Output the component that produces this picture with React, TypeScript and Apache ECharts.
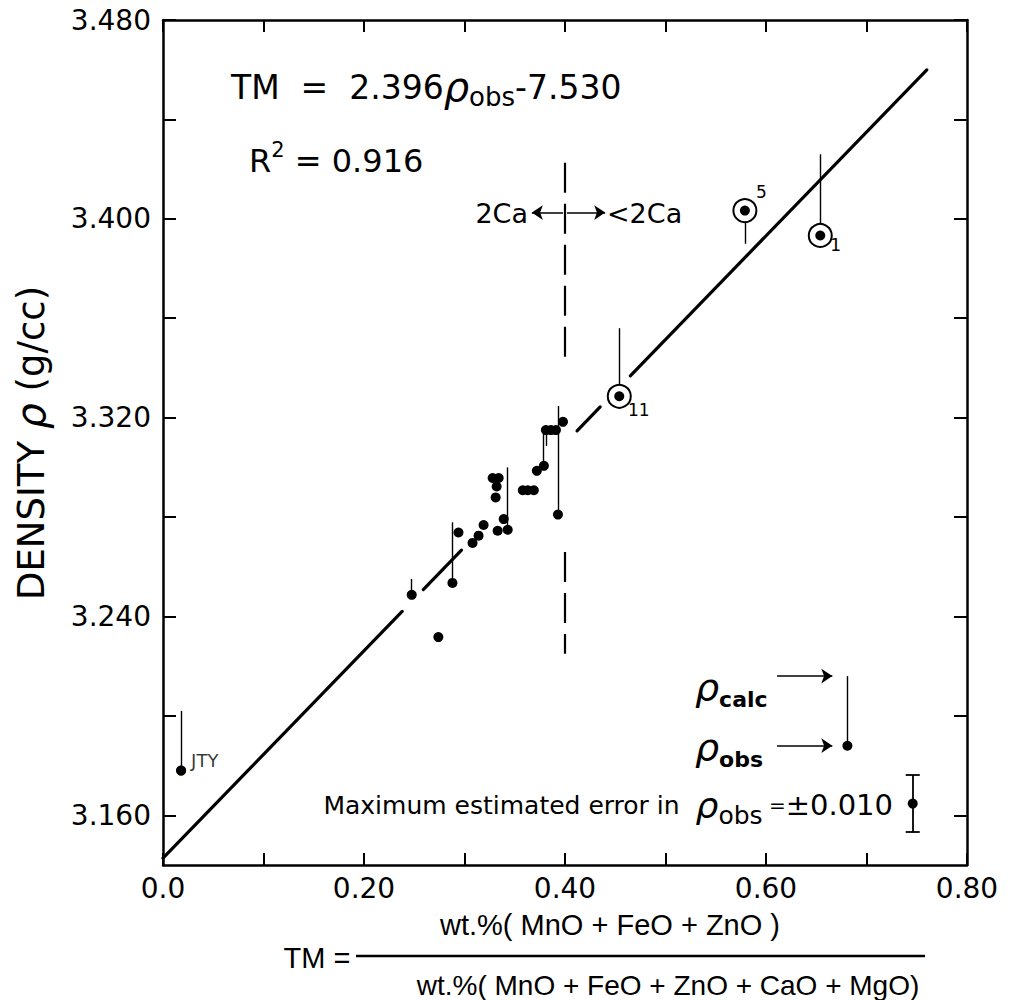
import React, { useEffect, useRef } from "react";
import * as echarts from "echarts";

const FONT = "DejaVu Sans";
const FONT_TITLE = "Liberation Sans";

// Axis ticks / labels
const xTickValues = [0, 0.1, 0.2, 0.3, 0.4, 0.5, 0.6, 0.7, 0.8];
const xLabelValues = [0, 0.2, 0.4, 0.6, 0.8];
const yTickValues = [3.16, 3.2, 3.24, 3.28, 3.32, 3.36, 3.4, 3.44, 3.48];
const yLabelValues = [3.16, 3.24, 3.32, 3.4, 3.48];

// Observed points: TM and rho_obs
const pointTM = [0.018, 0.2475, 0.274, 0.288, 0.294, 0.308, 0.314, 0.319, 0.333, 0.339, 0.343, 0.331, 0.332, 0.328, 0.334, 0.358, 0.363, 0.369, 0.372, 0.379, 0.381, 0.386, 0.391, 0.393, 0.398, 0.454, 0.579, 0.654];
const pointObs = [3.178, 3.2487, 3.2317, 3.2535, 3.2738, 3.2696, 3.2725, 3.2768, 3.2745, 3.2792, 3.2749, 3.2879, 3.2923, 3.2957, 3.2957, 3.2908, 3.2908, 3.2908, 3.2986, 3.3006, 3.315, 3.315, 3.315, 3.281, 3.3183, 3.3286, 3.4033, 3.3933];

// Circled (numbered) samples
const circledTM = [0.454, 0.579, 0.654];
const circledObs = [3.3286, 3.4033, 3.3933];
const circledNames = ["11", "5", "1"];

// Residual lines rho_calc -> rho_obs
const residTM = [0.018, 0.2475, 0.288, 0.343, 0.378, 0.381, 0.393, 0.454, 0.579, 0.654];
const residFrom = [3.202, 3.2551, 3.2779, 3.3, 3.315, 3.315, 3.3247, 3.356, 3.3989, 3.426];
const residTo = [3.178, 3.2487, 3.2535, 3.2749, 3.302, 3.3086, 3.281, 3.333, 3.39, 3.3977];

// Regression TM = 2.396 rho - 7.530, drawn in broken segments
const regSlope = 2.396;
const regIntercept = -7.53;
const regSegStart = [0, 0.259, 0.412, 0.465];
const regSegEnd = [0.238, 0.297, 0.435, 0.76];

// 2Ca boundary
const boundaryTM = 0.4;
const boundaryFrom = [3.4226, 3.2659];
const boundaryTo = [3.3438, 3.225];
const boundaryArrowRho = 3.4025;
const boundaryArrowLeft = 0.367;
const boundaryArrowRight = 0.44;

// Legend key
const keyTM = 0.681;
const keyCalc = 3.216;
const keyObs = 3.188;
const keyArrowFrom = 0.611;
const keyArrowTo = 0.666;

// Max error bar
const errTM = 0.746;
const errRho = 3.1647;
const errHalf = 0.0115;
const errCapHalf = 0.007;

const rhoFit = (tm: number) => (tm - regIntercept) / regSlope;

function buildOption() {
  const black = "#000";
  const axisLine = { show: true, onZero: false, lineStyle: { color: black, width: 2.5 } };
  const labelStyle = { color: black, fontFamily: FONT, fontSize: 28 };

  const xAxisBase = (pos: string, show: boolean) => ({
    type: "value",
    min: 0,
    max: 0.8,
    position: pos,
    axisLine,
    splitLine: { show: false },
    axisTick: { show: true, inside: true, length: 12, customValues: xTickValues, lineStyle: { color: black, width: 2 } },
    axisLabel: {
      show,
      customValues: xLabelValues,
      margin: 9,
      ...labelStyle,
      formatter: (v: number) => (Math.abs(v) < 1e-9 ? "0.0" : v.toFixed(2)),
    },
  });
  const yAxisBase = (pos: string, show: boolean) => ({
    type: "value",
    min: 3.14,
    max: 3.48,
    position: pos,
    axisLine,
    splitLine: { show: false },
    axisTick: { show: true, inside: true, length: 13, customValues: yTickValues, lineStyle: { color: black, width: 2 } },
    axisLabel: {
      show,
      customValues: yLabelValues,
      margin: 12,
      ...labelStyle,
      formatter: (v: number) => v.toFixed(3),
    },
  });

  const regData = regSegStart.map((s, i) => ({ coords: [[s, rhoFit(s)], [regSegEnd[i], rhoFit(regSegEnd[i])]] }));
  const residData = residTM.map((t, i) => ({ coords: [[t, residFrom[i]], [t, residTo[i]]] }));
  residData.push({ coords: [[keyTM, keyCalc], [keyTM, keyObs]] });
  const boundaryData = boundaryFrom.map((f, i) => ({ coords: [[boundaryTM, f], [boundaryTM, boundaryTo[i]]] }));
  const arrowData = [
    { coords: [[boundaryTM - 0.002, boundaryArrowRho], [boundaryArrowLeft, boundaryArrowRho]] },
    { coords: [[boundaryTM + 0.002, boundaryArrowRho], [boundaryArrowRight, boundaryArrowRho]] },
    { coords: [[keyArrowFrom, keyCalc], [keyArrowTo, keyCalc]] },
    { coords: [[keyArrowFrom, keyObs], [keyArrowTo, keyObs]] },
  ];
  const errData = [
    { coords: [[errTM, errRho - errHalf], [errTM, errRho + errHalf]] },
    { coords: [[errTM - errCapHalf, errRho - errHalf], [errTM + errCapHalf, errRho - errHalf]] },
    { coords: [[errTM - errCapHalf, errRho + errHalf], [errTM + errCapHalf, errRho + errHalf]] },
  ];

  const circledLabelPos: Record<string, number[]> = { "11": [32, 26], "5": [29, -6], "1": [28, 22] };

  const dots = pointTM.map((t, i) => [t, pointObs[i]]);
  dots.push([keyTM, keyObs]);
  dots.push([errTM, errRho]);

  const centerText = (text: string, x: number, y: number, size: number, family: string) => ({
    type: "text",
    x,
    y,
    style: { text, fontFamily: family, fontSize: size, fill: black, align: "center", verticalAlign: "middle", textAlign: "center", textVerticalAlign: "middle" },
  });

  return {
    animation: false,
    backgroundColor: "#fff",
    grid: { left: 163, top: 20, width: 804, height: 845, containLabel: false },
    xAxis: [xAxisBase("bottom", true), xAxisBase("top", false)],
    yAxis: [yAxisBase("left", true), yAxisBase("right", false)],
    series: [
      {
        type: "lines",
        coordinateSystem: "cartesian2d",
        data: regData,
        lineStyle: { color: black, width: 3.2, opacity: 1, cap: "round" },
        symbol: ["none", "none"],
      },
      {
        type: "lines",
        coordinateSystem: "cartesian2d",
        data: residData,
        lineStyle: { color: black, width: 1.4, opacity: 1 },
        symbol: ["none", "none"],
      },
      {
        type: "lines",
        coordinateSystem: "cartesian2d",
        data: boundaryData,
        lineStyle: { color: black, width: 2.2, opacity: 1, type: [30, 11] },
        symbol: ["none", "none"],
      },
      {
        type: "lines",
        coordinateSystem: "cartesian2d",
        data: arrowData,
        lineStyle: { color: black, width: 1.6, opacity: 1 },
        symbol: ["none", "arrow"],
        symbolSize: [8, 11],
      },
      {
        type: "lines",
        coordinateSystem: "cartesian2d",
        data: errData,
        lineStyle: { color: black, width: 1.8, opacity: 1 },
        symbol: ["none", "none"],
      },
      {
        type: "scatter",
        data: dots,
        symbol: "circle",
        symbolSize: 10,
        itemStyle: { color: black, opacity: 1 },
        label: { show: false },
        z: 5,
      },
      {
        type: "scatter",
        data: circledTM.map((t, i) => ({
          value: [t, circledObs[i]],
          name: circledNames[i],
          label: {
            show: true,
            position: circledLabelPos[circledNames[i]],
            formatter: circledNames[i],
            fontFamily: FONT,
            fontSize: 17,
            color: black,
            align: "center",
            verticalAlign: "middle",
          },
        })),
        symbol: "circle",
        symbolSize: 23,
        itemStyle: { color: "rgba(255,255,255,0)", borderColor: black, borderWidth: 2, opacity: 1 },
        z: 6,
      },
      {
        type: "scatter",
        data: [{
          value: [pointTM[0], pointObs[0]],
          label: { show: true, position: "right", distance: 5, offset: [0, -10], formatter: "JTY", fontFamily: FONT, fontSize: 18, color: black },
        }],
        symbolSize: 10,
        itemStyle: { color: black },
        z: 7,
      },
    ],
    graphic: [
      {
        type: "text",
        x: 231,
        y: 64,
        style: {
          text: "{n|TM  =  2.396}{r|ρ}{s|obs}{n|-7.530}",
          rich: {
            n: { fontFamily: FONT, fontSize: 33, color: black, lineHeight: 46 },
            r: { fontFamily: FONT, fontSize: 40, fontStyle: "italic", color: black, lineHeight: 46 },
            s: { fontFamily: FONT, fontSize: 26, color: black, lineHeight: 26, verticalAlign: "bottom" },
          },
        },
      },
      {
        type: "text",
        x: 249,
        y: 139,
        style: {
          text: "{n|R}{p|2}{n| = 0.916}",
          rich: {
            n: { fontFamily: FONT, fontSize: 32, color: black, lineHeight: 44 },
            p: { fontFamily: FONT, fontSize: 21, color: black, lineHeight: 21, verticalAlign: "top" },
          },
        },
      },
      {
        type: "text",
        x: 528,
        y: 213,
        style: { text: "2Ca", fontFamily: FONT, fontSize: 27, fill: black, align: "right", verticalAlign: "middle", textAlign: "right", textVerticalAlign: "middle" },
      },
      {
        type: "text",
        x: 607,
        y: 213,
        style: { text: "<2Ca", fontFamily: FONT, fontSize: 27, fill: black, align: "left", verticalAlign: "middle", textAlign: "left", textVerticalAlign: "middle" },
      },
      {
        type: "text",
        x: 695,
        y: 664,
        style: {
          text: "{r|ρ}{s|calc}",
          rich: {
            r: { fontFamily: FONT, fontSize: 38, fontStyle: "italic", color: black, lineHeight: 46 },
            s: { fontFamily: FONT, fontSize: 22, fontWeight: "bold", color: black, lineHeight: 28, verticalAlign: "bottom" },
          },
        },
      },
      {
        type: "text",
        x: 695,
        y: 724,
        style: {
          text: "{r|ρ}{s|obs}",
          rich: {
            r: { fontFamily: FONT, fontSize: 38, fontStyle: "italic", color: black, lineHeight: 46 },
            s: { fontFamily: FONT, fontSize: 22, fontWeight: "bold", color: black, lineHeight: 28, verticalAlign: "bottom" },
          },
        },
      },
      {
        type: "text",
        x: 893,
        y: 782,
        style: {
          text: "{m|Maximum estimated error in  }{r|ρ}{s|obs}{e| =}{b|±0.010}",
          align: "right",
          textAlign: "right",
          rich: {
            m: { fontFamily: FONT, fontSize: 25, color: black, lineHeight: 46 },
            r: { fontFamily: FONT, fontSize: 36, fontStyle: "italic", color: black, lineHeight: 46 },
            s: { fontFamily: FONT, fontSize: 25, color: black, lineHeight: 27, verticalAlign: "bottom" },
            e: { fontFamily: FONT, fontSize: 20, color: black, lineHeight: 40 },
            b: { fontFamily: FONT, fontSize: 29, color: black, lineHeight: 46 },
          },
        },
      },
      {
        type: "text",
        x: 31,
        y: 443,
        rotation: Math.PI / 2,
        style: {
          text: "{n|DENSITY }{r|ρ}{n| (g/cc)}",
          align: "center",
          verticalAlign: "middle",
          textAlign: "center",
          textVerticalAlign: "middle",
          rich: {
            n: { fontFamily: FONT, fontSize: 37, color: black, lineHeight: 46 },
            r: { fontFamily: FONT, fontSize: 41, fontStyle: "italic", color: black, lineHeight: 46 },
          },
        },
      },
      centerText("TM =", 317, 958, 29, FONT_TITLE),
      {
        type: "line",
        shape: { x1: 356, y1: 956, x2: 925, y2: 956 },
        style: { stroke: black, lineWidth: 2.4 },
      },
      centerText("wt.%( MnO + FeO + ZnO )", 610, 925, 29, FONT_TITLE),
      centerText("wt.%( MnO + FeO + ZnO + CaO + MgO)", 668, 985, 28, FONT_TITLE),
    ],
  };
}

export default function App() {
  const ref = useRef<HTMLDivElement>(null);
  useEffect(() => {
    const chart = echarts.init(ref.current as HTMLDivElement, null, { renderer: "svg" });
    chart.setOption(buildOption() as any);
    return () => chart.dispose();
  }, []);
  return (
    <div
      ref={ref}
      style={{ position: "fixed", left: 0, top: 0, width: 1012, height: 1000, background: "#fff" }}
    />
  );
}
